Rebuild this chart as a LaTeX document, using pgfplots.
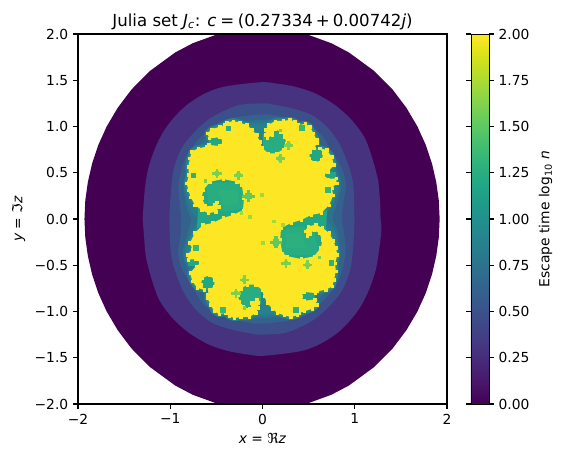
\documentclass[border=0pt]{standalone}
\usepackage{pgfplots}
\usepackage{pgfplotstable}
\pgfplotsset{compat=1.18}
\usepackage{fontspec}
\setmainfont{DejaVu Sans}
\definecolor{c1}{HTML}{440154}
\definecolor{c2}{HTML}{46327E}
\definecolor{c3}{HTML}{3C4F8A}
\definecolor{c4}{HTML}{33638D}
\definecolor{c5}{HTML}{2C718E}
\definecolor{c6}{HTML}{287C8E}
\definecolor{c7}{HTML}{26828E}
\definecolor{c8}{HTML}{21918C}
\definecolor{c9}{HTML}{22A785}
\definecolor{c10}{HTML}{27AD81}
\definecolor{c11}{HTML}{2CB17E}
\definecolor{c12}{HTML}{35B779}
\definecolor{c13}{HTML}{5EC962}
\definecolor{c14}{HTML}{7AD151}
\definecolor{c15}{HTML}{A0DA39}
\definecolor{cy}{HTML}{FDE725}
\pgfplotstableread[row sep=\\]{
x y\\
-0.786 -0.259\\ -0.732 -0.151\\ -0.645 -0.065\\ -0.537 -0.043\\ -0.428 0.011\\ -0.320 0.043\\ -0.211 0.097\\ -0.201 0.227\\ -0.225 0.368\\ -0.280 0.403\\
-0.428 0.432\\ -0.569 0.403\\ -0.642 0.313\\ -0.659 0.227\\ -0.623 0.151\\ -0.569 0.122\\ -0.522 0.159\\ -0.496 0.180\\ -0.472 0.133\\ -0.504 0.079\\
-0.588 0.062\\ -0.659 0.097\\ -0.732 0.151\\ -0.778 0.235\\ -0.804 0.313\\ -0.822 0.386\\ -0.797 0.476\\ -0.804 0.565\\ -0.786 0.656\\ -0.767 0.728\\
-0.696 0.764\\ -0.605 0.782\\ -0.580 0.800\\ -0.461 0.789\\ -0.425 0.836\\ -0.461 0.883\\ -0.577 0.872\\ -0.598 0.926\\ -0.551 0.970\\ -0.461 0.998\\
-0.407 1.016\\ -0.388 1.041\\ -0.317 1.059\\ -0.244 1.041\\ -0.171 1.016\\ -0.117 0.970\\ -0.063 0.908\\ -0.027 0.836\\ -0.005 0.768\\ 0.063 0.710\\
0.154 0.710\\ 0.225 0.753\\ 0.255 0.818\\ 0.244 0.890\\ 0.197 0.944\\ 0.136 0.970\\ 0.100 0.944\\ 0.106 0.908\\ 0.052 0.872\\ 0.035 0.908\\
0.038 0.962\\ 0.063 1.016\\ 0.136 1.059\\ 0.225 1.062\\ 0.298 1.070\\ 0.352 1.052\\ 0.388 1.016\\ 0.461 1.027\\ 0.515 0.998\\ 0.551 0.926\\
0.588 0.854\\ 0.588 0.818\\ 0.562 0.764\\ 0.515 0.728\\ 0.507 0.656\\ 0.569 0.609\\ 0.642 0.638\\ 0.659 0.710\\ 0.623 0.764\\ 0.696 0.746\\
0.750 0.673\\ 0.775 0.584\\ 0.710 0.511\\ 0.659 0.476\\ 0.713 0.432\\ 0.797 0.440\\ 0.804 0.386\\ 0.750 0.332\\ 0.767 0.259\\
0.722 0.151\\ 0.635 0.065\\ 0.527 0.043\\ 0.418 -0.011\\ 0.310 -0.043\\ 0.201 -0.097\\ 0.191 -0.227\\ 0.215 -0.368\\ 0.270 -0.403\\ 0.418 -0.432\\
0.559 -0.403\\ 0.632 -0.313\\ 0.649 -0.227\\ 0.613 -0.151\\ 0.559 -0.122\\ 0.512 -0.159\\ 0.486 -0.180\\ 0.462 -0.133\\ 0.494 -0.079\\ 0.578 -0.062\\
0.649 -0.097\\ 0.722 -0.151\\ 0.768 -0.235\\ 0.794 -0.313\\ 0.812 -0.386\\ 0.787 -0.476\\ 0.794 -0.565\\ 0.776 -0.656\\ 0.757 -0.728\\ 0.686 -0.764\\
0.595 -0.782\\ 0.570 -0.800\\ 0.451 -0.789\\ 0.415 -0.836\\ 0.451 -0.883\\ 0.567 -0.872\\ 0.588 -0.926\\ 0.541 -0.970\\ 0.451 -0.998\\ 0.397 -1.016\\
0.378 -1.041\\ 0.307 -1.059\\ 0.234 -1.041\\ 0.161 -1.016\\ 0.107 -0.970\\ 0.053 -0.908\\ 0.017 -0.836\\ -0.005 -0.768\\ -0.073 -0.710\\ -0.164 -0.710\\
-0.235 -0.753\\ -0.265 -0.818\\ -0.254 -0.890\\ -0.207 -0.944\\ -0.146 -0.970\\ -0.110 -0.944\\ -0.116 -0.908\\ -0.062 -0.872\\ -0.045 -0.908\\ -0.048 -0.962\\
-0.073 -1.016\\ -0.146 -1.059\\ -0.235 -1.062\\ -0.308 -1.070\\ -0.362 -1.052\\ -0.398 -1.016\\ -0.471 -1.027\\ -0.525 -0.998\\ -0.561 -0.926\\ -0.598 -0.854\\
-0.598 -0.818\\ -0.572 -0.764\\ -0.525 -0.728\\ -0.517 -0.656\\ -0.579 -0.609\\ -0.652 -0.638\\ -0.669 -0.710\\ -0.633 -0.764\\ -0.706 -0.746\\ -0.760 -0.673\\
-0.785 -0.584\\ -0.720 -0.511\\ -0.669 -0.476\\ -0.723 -0.432\\ -0.807 -0.440\\ -0.814 -0.386\\ -0.760 -0.332\\ -0.786 -0.259\\
}\julia
\begin{document}
\begin{tikzpicture}
\useasboundingbox (-56.16bp,-38.16bp) rectangle (349.2bp,290.88bp);
\begin{axis}[
  at={(0bp,0bp)},anchor=south west,
  scale only axis,width=265.7bp,height=266.4bp,
  xmin=-2,xmax=2,ymin=-2,ymax=2,
  axis on top,
  axis line style={line width=.8bp},
  tick align=outside,xtick pos=bottom,ytick pos=left,
  major tick length=3.5bp,
  tick style={black,line width=.8bp},
  xtick={-2,-1,0,1,2},xticklabels={−2,−1,0,1,2},
  ytick={-2,-1.5,-1,-0.5,0,0.5,1,1.5,2},
  yticklabels={−2.0,−1.5,−1.0,−0.5,0.0,0.5,1.0,1.5,2.0},
  tick label style={font=\fontsize{10}{12}\selectfont},
  xlabel={\textit{x} = ℜ\textit{z}},
  ylabel={\textit{y} = ℑ\textit{z}},
  label style={font=\fontsize{10}{12}\selectfont},
  title={Julia set \textit{J}\textsubscript{\textit{c}}: \textit{c}\hspace{.22em}=\hspace{.22em}(0.27334\hspace{.18em}+\hspace{.18em}0.00742\textit{j})},
  title style={font=\fontsize{12}{14}\selectfont,yshift=-6.5bp},
  colorbar,colormap/viridis,point meta min=0,point meta max=2,
  colorbar style={
    width=13bp,
    at={(parent axis.north east)},anchor=north west,xshift=8.66bp,
    ytick={0,0.25,0.5,0.75,1,1.25,1.5,1.75,2},
    yticklabels={0.00,0.25,0.50,0.75,1.00,1.25,1.50,1.75,2.00},
    ylabel={Escape time log\textsubscript{10} \textit{n}},
    tick align=outside,major tick length=3.5bp,
    tick label style={font=\fontsize{10}{12}\selectfont},
    label style={font=\fontsize{10}{12}\selectfont},
  },
]
\addplot[draw=none,fill=c1] coordinates {(-1.93,0)(-1.921,.2)(-1.893,.4)(-1.847,.6)(-1.78,.8)(-1.689,1)(-1.571,1.2)(-1.42,1.4)(-1.221,1.6)(-.947,1.8)(-.757,1.9)(-.481,2)(.471,2)(.747,1.9)(.937,1.8)(1.211,1.6)(1.41,1.4)(1.561,1.2)(1.679,1)(1.77,.8)(1.837,.6)(1.883,.4)(1.911,.2)(1.92,0)(1.911,-.2)(1.883,-.4)(1.837,-.6)(1.77,-.8)(1.679,-1)(1.561,-1.2)(1.41,-1.4)(1.211,-1.6)(.937,-1.8)(.747,-1.9)(.471,-2)(-.481,-2)(-.757,-1.9)(-.947,-1.8)(-1.221,-1.6)(-1.42,-1.4)(-1.571,-1.2)(-1.689,-1)(-1.78,-.8)(-1.847,-.6)(-1.893,-.4)(-1.921,-.2)};
\addplot[draw=none,fill=c2,smooth,tension=.5] coordinates {(-1.299,0)(-1.292,.116)(-1.274,.332)(-1.238,.548)(-1.165,.764)(-1.075,.944)(-.967,1.089)(-.822,1.232)(-.642,1.348)(-.461,1.42)(-.244,1.456)(0,1.48)(.135,1.467)(.352,1.43)(.569,1.359)(.786,1.232)(.967,1.07)(1.111,.872)(1.201,.62)(1.255,.403)(1.274,.187)(1.28,0)(1.289,-.116)(1.264,-.332)(1.228,-.548)(1.155,-.764)(1.065,-.944)(.957,-1.089)(.812,-1.232)(.632,-1.348)(.451,-1.42)(.234,-1.456)(-.01,-1.48)(-.145,-1.467)(-.362,-1.43)(-.579,-1.359)(-.796,-1.232)(-.977,-1.07)(-1.121,-.872)(-1.211,-.62)(-1.265,-.403)(-1.284,-.187)(-1.299,0)};
\addplot[draw=none,fill=c3,smooth,tension=.5] coordinates {(-1.01,0)(-1.0,.195)(-.967,.52)(-.876,.766)(-.73,.948)(-.55,1.10)(-.262,1.23)(.03,1.25)(.10,1.24)(.317,1.197)(.533,1.124)(.713,.981)(.84,.80)(.93,.584)(.984,.368)(.995,0)(.99,-.195)(.957,-.52)(.866,-.766)(.72,-.948)(.54,-1.10)(.252,-1.23)(-.04,-1.25)(-.11,-1.24)(-.327,-1.197)(-.543,-1.124)(-.723,-.981)(-.85,-.80)(-.94,-.584)(-.994,-.368)(-1.01,0)};
\addplot[draw=none,fill=c4,smooth,tension=.5] coordinates {(-.88,0)(-.90,.2)(-.91,.37)(-.86,.60)(-.79,.735)(-.66,.894)(-.44,1.06)(-.19,1.113)(.03,1.13)(.135,1.12)(.317,1.08)(.496,1.016)(.642,.908)(.75,.727)(.86,.55)(.905,.37)(.88,.2)(.86,0)(.89,-.2)(.90,-.37)(.85,-.60)(.78,-.735)(.65,-.894)(.43,-1.06)(.18,-1.113)(-.04,-1.13)(-.145,-1.12)(-.327,-1.08)(-.506,-1.016)(-.652,-.908)(-.76,-.727)(-.87,-.55)(-.915,-.37)(-.89,-.2)(-.88,0)};
\addplot[draw=none,fill=c5,smooth,tension=.5] coordinates {(-.77,0)(-.82,.12)(-.855,.37)(-.80,.584)(-.70,.766)(-.587,.894)(-.406,1.0)(-.19,1.056)(.03,1.073)(.28,1.08)(.461,.98)(.605,.836)(.70,.70)(.80,.55)(.855,.37)(.80,.15)(.76,0)(.81,-.12)(.845,-.37)(.79,-.584)(.69,-.766)(.577,-.894)(.396,-1.0)(.18,-1.056)(-.04,-1.073)(-.29,-1.08)(-.471,-.98)(-.615,-.836)(-.71,-.70)(-.81,-.55)(-.865,-.37)(-.81,-.15)(-.77,0)};
\addplot[draw=none,fill=c6,smooth,tension=.5] coordinates {(-.70,0)(-.79,.12)(-.835,.35)(-.78,.58)(-.67,.73)(-.56,.87)(-.39,.97)(-.19,1.03)(.03,1.05)(.26,1.05)(.44,.97)(.58,.81)(.67,.68)(.78,.53)(.835,.35)(.75,.14)(.69,0)(.78,-.12)(.825,-.35)(.77,-.58)(.66,-.73)(.55,-.87)(.38,-.97)(.18,-1.03)(-.04,-1.05)(-.27,-1.05)(-.45,-.97)(-.59,-.81)(-.68,-.68)(-.79,-.53)(-.845,-.35)(-.76,-.14)(-.70,0)};
\addplot[draw=none,fill=c7] coordinates {(-.62,0)(-.72,.1)(-.81,.33)(-.76,.56)(-.64,.71)(-.53,.83)(-.37,.93)(-.19,1.01)(.03,1.02)(.24,1.03)(.42,.95)(.55,.78)(.64,.64)(.75,.50)(.82,.35)(.72,.12)(.6,0)(.71,-.1)(.80,-.33)(.75,-.56)(.63,-.71)(.52,-.83)(.36,-.93)(.18,-1.01)(-.04,-1.02)(-.25,-1.03)(-.43,-.95)(-.56,-.78)(-.65,-.64)(-.76,-.50)(-.83,-.35)(-.73,-.12)};
% halo round the set
\addplot[draw=c7,line width=4.4bp,line join=round] table[x=x,y=y] {\julia};
\addplot[draw=c8,line width=2.2bp,line join=round] table[x=x,y=y] {\julia};
% bays
\addplot[draw=none,fill=c9] coordinates {(-.678,.443)(-.157,.443)(-.157,.076)(-.298,.011)(-.515,-.054)(-.71,-.097)};
\addplot[draw=none,fill=c9] coordinates {(.668,-.443)(.147,-.443)(.147,-.076)(.288,-.011)(.505,.054)(.70,.097)};
\addplot[draw=none,fill=c10] coordinates {(-.623,.389)(-.211,.389)(-.211,.119)(-.407,.076)(-.569,.119)};
\addplot[draw=none,fill=c10] coordinates {(.613,-.389)(.201,-.389)(.201,-.119)(.397,-.076)(.559,-.119)};
\addplot[draw=none,fill=c11] coordinates {(-.482,.313)(-.266,.313)(-.266,.162)(-.417,.141)};
\addplot[draw=none,fill=c11] coordinates {(.472,-.313)(.256,-.313)(.256,-.162)(.407,-.141)};
\addplot[draw=none,fill=c10] coordinates {(.005,.919)(.298,.99)(.298,.681)(.005,.681)};
\addplot[draw=none,fill=c10] coordinates {(-.015,-.919)(-.308,-.99)(-.308,-.681)(-.015,-.681)};
\addplot[draw=none,fill=c9] coordinates {(.504,.768)(.656,.768)(.656,.616)(.504,.616)};
\addplot[draw=none,fill=c9] coordinates {(-.514,-.768)(-.666,-.768)(-.666,-.616)(-.514,-.616)};
\addplot[draw=none,fill=c9] coordinates {(-.58,.872)(-.417,.872)(-.417,.79)(-.58,.79)};
\addplot[draw=none,fill=c9] coordinates {(.57,-.872)(.407,-.872)(.407,-.79)(.57,-.79)};
\addplot[draw=none,fill=c9] coordinates {(.656,.508)(.797,.508)(.797,.432)(.656,.432)};
\addplot[draw=none,fill=c9] coordinates {(-.666,-.508)(-.807,-.508)(-.807,-.432)(-.666,-.432)};
% the set
\addplot[draw=none,fill=cy] table[x=x,y=y] {\julia};
\addplot[only marks,mark=square*,mark size=.9bp,cy,mark options={draw=none}] table[x=x,y=y] {\julia};
% buds
\addplot[only marks,mark=square*,mark size=2bp,c13,mark options={draw=none}] coordinates {(-.154,.249)(.144,-.249)};
\addplot[only marks,mark=square*,mark size=.8bp,c13,mark options={draw=none}] coordinates {(-.204,.249)(-.104,.249)(-.154,.299)(-.154,.199)(.194,-.249)(.094,-.249)(.144,-.299)(.144,-.199)};
\addplot[only marks,mark=square*,mark size=1.2bp,c14,mark options={draw=none}] coordinates {(-.496,.494)(.486,-.494)(-.262,.476)(.252,-.476)(.19,.656)(-.2,-.656)(.28,.80)(-.29,-.80)};
\addplot[only marks,mark=square*,mark size=.6bp,c14,mark options={draw=none}] coordinates {(-.531,.494)(-.461,.494)(-.496,.529)(-.496,.459)(.451,-.494)(.521,-.494)(.486,-.459)(.486,-.529)(-.297,.476)(-.227,.476)(-.262,.511)(-.262,.441)(.217,-.476)(.287,-.476)(.252,-.441)(.252,-.511)(.155,.656)(.225,.656)(.19,.691)(.19,.621)(-.235,-.656)(-.165,-.656)(-.2,-.621)(-.2,-.691)(.245,.80)(.315,.80)(.28,.835)(.28,.765)(-.325,-.80)(-.255,-.80)(-.29,-.765)(-.29,-.835)};
\addplot[only marks,mark=square*,mark size=1.6bp,c11,mark options={draw=none}] coordinates {(-.753,.472)(.743,-.472)(-.371,.981)(.361,-.981)};
\addplot[only marks,mark=square*,mark size=1.8bp,c12,mark options={draw=none}] coordinates {(.425,.984)(-.435,-.984)(.71,.314)(-.72,-.314)};
\addplot[only marks,mark=square*,mark size=.9bp,c14,mark options={draw=none}] coordinates {(-.623,.414)(.613,-.414)(.19,.96)(-.2,-.96)};
\addplot[only marks,mark=square*,mark size=1bp,c15,mark options={draw=none}] coordinates {(-.009,.259)(0,-.259)(.219,-.065)(-.229,.065)(-.135,.025)(.125,-.025)};
\end{axis}
\end{tikzpicture}
\end{document}
